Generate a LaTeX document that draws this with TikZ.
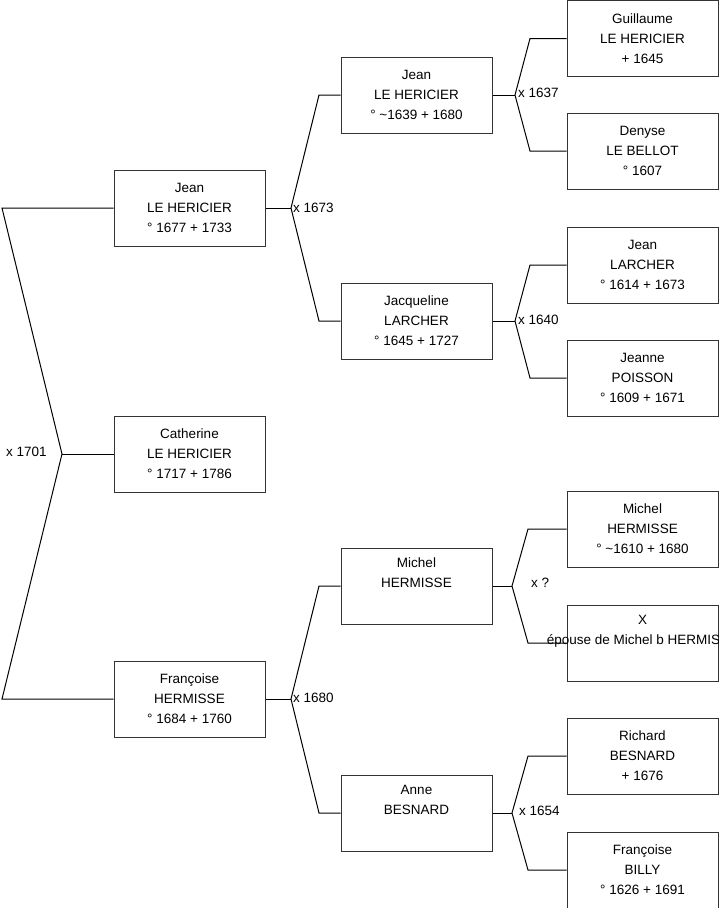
\documentclass[tikz,border=0pt]{standalone}
\usepackage{fontspec}
\setmainfont{Liberation Sans}
\begin{document}
\begin{tikzpicture}[x=1pt,y=-1pt,
  pbox/.style={draw=black!80,line width=1pt,rectangle,minimum width=151pt,minimum height=76pt,inner sep=0pt,align=center,font=\fontsize{13.5}{20}\selectfont},
  ptext/.style={inner sep=0pt,align=center,font=\fontsize{13.5}{20}\selectfont},
  conn/.style={draw=black,line width=1pt},
  mlabel/.style={inner sep=1pt,font=\fontsize{13.5}{16}\selectfont}]
\useasboundingbox (0,0) rectangle (719,908);
\clip (0,0) rectangle (719,908);
% column 1
\node[pbox] (jean1) at (189.5,208) {Jean\\LE HERICIER\\° 1677 + 1733};
\node[pbox] (cath) at (189.5,454) {Catherine\\LE HERICIER\\° 1717 + 1786};
\node[pbox] (fran1) at (189.5,699) {Françoise\\HERMISSE\\° 1684 + 1760};
% column 2
\node[pbox] (jean2) at (416.5,95) {Jean\\LE HERICIER\\° \textasciitilde 1639 + 1680};
\node[pbox] (jacq) at (416.5,321) {Jacqueline\\LARCHER\\° 1645 + 1727};
\node[pbox] (mich2) at (416.5,586) {Michel\\HERMISSE\\\strut};
\node[pbox] (anne) at (416.5,813) {Anne\\BESNARD\\\strut};
% column 3
\node[pbox] (guil) at (642.5,38.5) {Guillaume\\LE HERICIER\\+ 1645};
\node[pbox] (deny) at (642.5,151) {Denyse\\LE BELLOT\\° 1607};
\node[pbox] (jean3) at (642.5,265) {Jean\\LARCHER\\° 1614 + 1673};
\node[pbox] (jean4) at (642.5,378) {Jeanne\\POISSON\\° 1609 + 1671};
\node[pbox] (mich3) at (642.5,529) {Michel\\HERMISSE\\° \textasciitilde 1610 + 1680};
\node[pbox] (xbox) at (642.5,643) {};
\node[pbox] (rich) at (642.5,756) {Richard\\BESNARD\\+ 1676};
\node[pbox] (fbil) at (642.5,870) {Françoise\\BILLY\\° 1626 + 1691};
% fork coordinates
\coordinate (p1) at (2,208);
\coordinate (p2) at (2,699);
\coordinate (f0) at (62,454);
\coordinate (f1) at (291,208);
\coordinate (a1) at (319,95);
\coordinate (b1) at (319,321);
\coordinate (f2) at (291,699);
\coordinate (a2) at (319,586);
\coordinate (b2) at (319,813);
\coordinate (f3) at (515,95);
\coordinate (a3) at (530,38.5);
\coordinate (b3) at (530,151);
\coordinate (f4) at (515,321);
\coordinate (a4) at (530,265);
\coordinate (b4) at (530,378);
\coordinate (f5) at (512,586);
\coordinate (a5) at (528,529);
\coordinate (b5) at (528,643);
\coordinate (f6) at (512,813);
\coordinate (a6) at (528,756);
\coordinate (b6) at (528,870);
% connectors
\draw[conn] (jean1.west) -- (p1) -- (f0) -- (p2) -- (fran1.west);
\draw[conn] (f0) -- (cath.west);
\draw[conn] (jean1.east) -- (f1);
\draw[conn] (jean2.west) -- (a1) -- (f1) -- (b1) -- (jacq.west);
\draw[conn] (fran1.east) -- (f2);
\draw[conn] (mich2.west) -- (a2) -- (f2) -- (b2) -- (anne.west);
\draw[conn] (jean2.east) -- (f3);
\draw[conn] (guil.west) -- (a3) -- (f3) -- (b3) -- (deny.west);
\draw[conn] (jacq.east) -- (f4);
\draw[conn] (jean3.west) -- (a4) -- (f4) -- (b4) -- (jean4.west);
\draw[conn] (mich2.east) -- (f5);
\draw[conn] (mich3.west) -- (a5) -- (f5) -- (b5) -- (xbox.west);
\draw[conn] (anne.east) -- (f6);
\draw[conn] (rich.west) -- (a6) -- (f6) -- (b6) -- (fbil.west);
% X box text (overflowing, as in the reference)
\node[ptext] (xtext) at (642.5,643) {X\\épouse de Michel b HERMISSE\\\strut};
% marriage labels
\node[mlabel,anchor=west] (l0) at (5,452) {x 1701};
\node[mlabel,anchor=west] (l1) at (292,208) {x 1673};
\node[mlabel,anchor=west] (l2) at (292,698) {x 1680};
\node[mlabel,anchor=west] (l3) at (517,93) {x 1637};
\node[mlabel,anchor=west] (l4) at (517,320) {x 1640};
\node[mlabel,anchor=west] (l5) at (530,583) {x ?};
\node[mlabel,anchor=west] (l6) at (518,811) {x 1654};
\end{tikzpicture}
\end{document}
